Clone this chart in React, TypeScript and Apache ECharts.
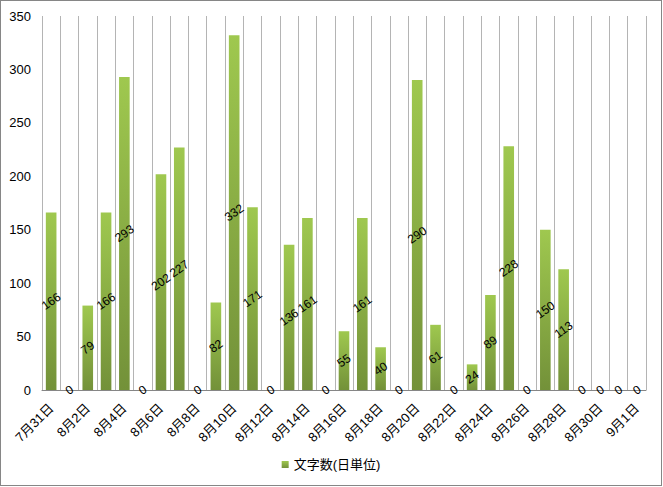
import React, { useEffect, useRef } from "react";
import * as echarts from "echarts";

const categories = [
  "7月31日", "8月1日", "8月2日", "8月3日", "8月4日", "8月5日", "8月6日", "8月7日",
  "8月8日", "8月9日", "8月10日", "8月11日", "8月12日", "8月13日", "8月14日", "8月15日",
  "8月16日", "8月17日", "8月18日", "8月19日", "8月20日", "8月21日", "8月22日", "8月23日",
  "8月24日", "8月25日", "8月26日", "8月27日", "8月28日", "8月29日", "8月30日", "8月31日",
  "9月1日",
];
const values = [
  166, 0, 79, 166, 293, 0, 202, 227, 0, 82, 332, 171, 0, 136, 161, 0,
  55, 161, 40, 0, 290, 61, 0, 24, 89, 228, 0, 150, 113, 0, 0, 0, 0,
];
const seriesName = "文字数(日単位)";
const yTicks = { min: 0, max: 350, interval: 50 };

const FONT = "'Liberation Sans', 'Noto Sans CJK JP', sans-serif";

export default function App() {
  const ref = useRef<HTMLDivElement>(null);
  useEffect(() => {
    if (!ref.current) return;
    const chart = echarts.init(ref.current, undefined, { renderer: "svg" });
    chart.setOption({
      animation: false,
      textStyle: { fontFamily: FONT },
      grid: { left: 41, right: 15, top: 15, bottom: 95, containLabel: false },
      legend: {
        bottom: 9,
        left: "center",
        icon: "rect",
        itemWidth: 7,
        itemHeight: 7,
        itemGap: 4,
        textStyle: { fontSize: 13, color: "#000", fontFamily: FONT },
        data: [seriesName],
      },
      xAxis: {
        type: "category",
        data: categories,
        boundaryGap: true,
        axisLine: { show: true, lineStyle: { color: "#868686", width: 1 } },
        axisTick: { show: false },
        splitLine: { show: true, interval: 0, lineStyle: { color: "#b4b4b4", width: 1 } },
        axisLabel: {
          interval: 1,
          rotate: 45,
          fontSize: 13,
          color: "#000",
          margin: 16,
          fontFamily: FONT,
        },
      },
      yAxis: {
        type: "value",
        min: yTicks.min,
        max: yTicks.max,
        interval: yTicks.interval,
        axisLine: { show: false },
        axisTick: { show: false },
        splitLine: { show: false },
        axisLabel: { fontSize: 13, color: "#000", margin: 11, fontFamily: FONT },
      },
      series: [
        {
          name: seriesName,
          type: "bar",
          data: values,
          barWidth: "58%",
          itemStyle: {
            color: new echarts.graphic.LinearGradient(0, 0, 0, 1, [
              { offset: 0, color: "#9fc84f" },
              { offset: 1, color: "#739139" },
            ]),
          },
          label: {
            show: true,
            position: "inside",
            rotate: 35,
            fontSize: 12,
            color: "#000",
            fontFamily: FONT,
          },
        },
      ],
    });
    return () => chart.dispose();
  }, []);
  return (
    <div
      style={{
        position: "absolute",
        left: 0,
        top: 0,
        width: 662,
        height: 486,
        border: "1px solid #868686",
        boxSizing: "border-box",
        background: "#fff",
      }}
    >
      <div ref={ref} style={{ width: "100%", height: "100%" }} />
    </div>
  );
}
